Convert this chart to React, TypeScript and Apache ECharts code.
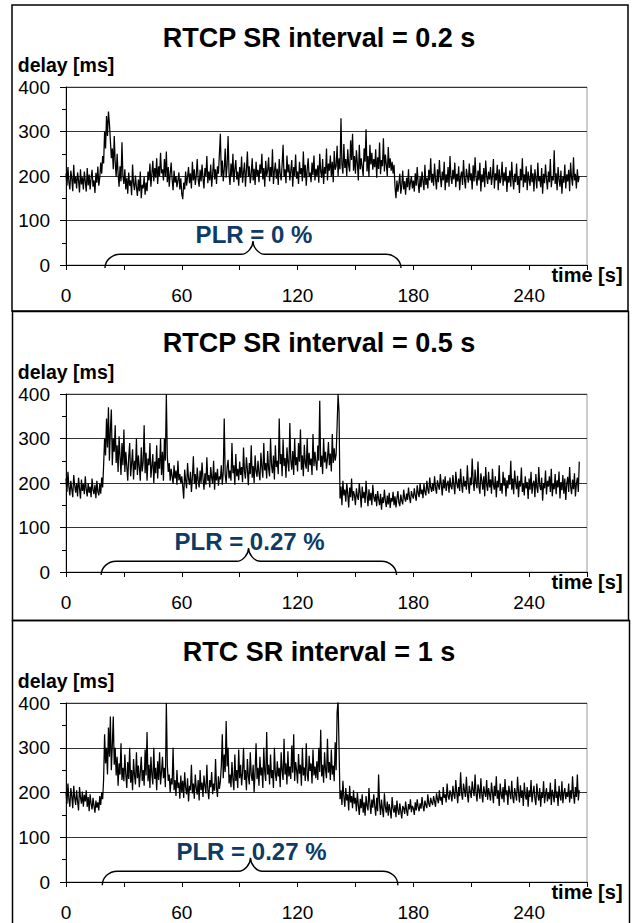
import React, { useEffect, useRef } from "react";
import * as echarts from "echarts";

// sampling step of the delay traces (seconds)
const DT = 0.5;

// Panel titles and PLR annotations
const TITLES = ["RTCP SR interval = 0.2 s", "RTCP SR interval = 0.5 s", "RTC SR interval = 1 s"];
const PLR_LABELS = ["PLR = 0 %", "PLR = 0.27 %", "PLR = 0.27 %"];
// brace: [start s, end s, peak s]
const BRACES = [
  [20.2, 173.6, 96.9],
  [18.2, 171.3, 94.6],
  [18.8, 172.0, 95.6],
];
const X_TICKS = [0, 60, 120, 180, 240];
const Y_TICKS = [0, 100, 200, 300, 400];

// delay [ms], RTCP SR interval = 0.2 s
const DELAY_02 = [
  205,178,220,186,170,212,194,166,225,183,199,172,208,190,163,215,181,197,170,210,
  188,165,218,179,203,170,195,214,176,190,162,207,185,221,178,196,230,205,245,228,
  300,262,335,290,345,318,280,240,262,215,290,230,198,250,205,176,222,188,276,200,
  182,215,170,196,160,208,178,190,157,226,183,168,201,175,155,192,166,210,150,180,
  172,198,158,185,166,210,190,228,176,205,234,188,218,196,240,182,222,200,252,206,
  215,190,238,198,255,186,220,176,205,230,192,168,212,185,200,175,190,208,170,195,
  160,148,185,170,210,178,198,220,184,206,172,232,190,215,180,200,238,192,176,214,
  188,226,195,172,218,200,245,184,210,190,226,176,204,240,192,215,182,222,205,250,
  295,200,235,188,215,262,196,224,290,205,180,228,198,250,186,215,236,192,210,178,
  220,196,244,185,208,230,176,212,255,198,222,184,205,240,190,216,180,232,200,214,
  186,226,205,250,192,218,176,234,200,212,242,188,220,198,260,182,210,230,194,216,
  180,238,205,190,225,270,198,215,184,246,208,226,190,212,236,176,220,200,248,194,
  210,182,232,204,218,188,255,196,225,178,214,240,198,208,186,230,202,246,190,216,
  200,224,185,250,210,196,238,182,220,205,262,190,228,212,246,198,232,186,256,214,
  222,268,200,240,215,330,226,205,272,218,238,200,260,224,210,280,236,295,212,245,
  205,258,228,190,270,215,240,220,200,262,232,305,210,245,198,270,226,252,214,238,
  220,260,196,242,216,275,204,236,222,285,210,248,226,200,265,218,240,212,232,206,
  225,176,150,190,165,182,205,160,178,212,170,188,158,196,175,215,168,185,200,172,
  190,165,206,178,220,184,162,198,175,210,188,168,225,180,196,172,214,190,240,185,
  205,178,228,192,170,215,186,236,198,175,210,190,232,168,204,185,220,176,245,196,
  182,214,192,230,175,205,188,222,168,198,210,180,236,194,172,216,200,185,228,190,
  206,170,224,188,242,196,178,212,190,230,165,204,186,218,175,235,198,182,210,192,
  220,180,200,238,172,206,190,225,168,215,184,196,232,178,208,188,220,164,200,185,
  212,176,232,194,170,205,186,228,180,198,162,216,190,240,175,204,185,222,168,210,
  192,178,225,186,206,165,215,194,172,230,188,200,175,218,160,205,184,226,192,170,
  210,186,238,175,200,190,258,182,206,168,220,192,176,212,160,198,185,226,172,204,
  188,214,166,230,196,178,242,190,205,172,215,186,200,
];

// delay [ms], RTCP SR interval = 0.5 s
const DELAY_05 = [
  210,180,225,192,172,205,186,168,218,195,178,200,170,212,188,165,208,182,198,175,
  215,185,170,200,178,192,168,210,184,175,196,166,205,180,172,198,176,212,190,240,
  300,262,345,280,370,250,320,365,240,300,270,330,245,285,225,305,260,218,290,240,
  320,225,270,238,205,258,290,215,244,276,208,250,230,300,218,262,236,205,280,226,
  248,330,222,268,205,255,240,290,212,238,265,200,248,222,285,210,256,232,300,218,
  270,205,300,250,400,260,225,245,205,232,215,198,240,210,228,196,250,206,220,200,
  215,192,165,230,205,188,245,210,196,225,180,212,260,198,220,186,235,205,190,228,
  200,246,210,185,222,196,258,205,218,190,236,212,198,250,185,224,206,232,194,215,
  208,240,196,225,345,218,200,236,252,210,228,205,290,222,240,196,265,215,232,206,
  248,218,236,202,280,225,210,258,230,195,245,220,285,212,238,200,262,226,214,250,
  222,206,268,236,212,290,228,245,210,272,232,215,300,240,222,262,208,285,236,250,
  220,345,242,265,215,298,238,256,212,280,245,226,335,250,230,272,218,300,240,258,
  226,290,248,320,230,262,215,286,244,232,300,225,268,240,255,218,310,238,270,246,
  228,284,250,385,236,262,220,300,246,270,232,255,292,240,266,226,310,245,278,250,
  265,330,400,360,165,192,150,205,172,185,158,200,176,145,190,168,210,160,182,172,
  150,188,170,162,200,176,145,192,166,180,155,205,172,148,186,160,178,150,196,168,
  158,175,148,182,164,150,176,140,168,155,185,160,146,172,152,178,144,166,158,180,
  150,170,145,165,182,156,148,174,160,152,185,166,158,176,162,190,168,155,182,172,
  165,188,172,160,195,178,168,200,175,185,166,198,180,172,205,186,176,212,190,180,
  200,182,215,190,176,206,194,185,220,196,172,208,188,215,182,198,205,178,212,192,
  186,218,195,175,225,200,188,210,182,232,196,178,215,192,205,185,240,198,176,212,
  195,255,205,182,230,200,188,248,192,176,222,205,185,215,170,236,196,182,225,190,
  208,176,232,195,185,215,168,205,190,240,182,200,176,225,194,212,170,206,188,218,
  196,250,185,210,175,228,200,186,216,168,205,192,235,180,198,172,215,188,202,164,
  210,185,225,176,198,205,168,220,190,178,236,194,184,212,160,200,188,228,174,205,
  192,215,180,232,170,198,186,220,175,206,190,226,165,202,184,218,176,210,162,198,
  214,180,236,192,175,208,186,222,170,198,212,180,248,
];

// delay [ms], RTCP SR interval = 1 s
const DELAY_1 = [
  200,175,220,185,168,210,192,165,215,188,172,205,180,160,212,190,175,202,168,195,
  180,205,168,190,158,196,175,162,188,170,155,182,166,178,160,192,172,200,185,230,
  330,265,300,240,345,280,370,250,305,370,262,300,238,280,215,265,240,310,228,255,
  225,285,240,210,268,230,300,222,250,205,275,238,218,290,232,260,212,245,280,226,
  250,215,296,238,335,225,262,210,280,240,218,300,230,255,205,270,228,290,218,246,
  280,232,255,212,400,262,226,240,200,232,218,300,205,228,192,250,210,222,186,238,
  200,226,188,245,210,196,232,180,215,205,262,198,220,186,240,210,195,228,182,250,
  205,222,190,238,214,198,262,206,185,228,212,246,196,220,204,275,210,190,236,208,
  225,260,330,232,285,246,360,258,300,220,240,212,268,230,205,285,226,250,210,296,
  232,262,216,245,300,228,250,205,275,236,218,290,240,226,262,200,248,310,230,255,
  215,280,238,256,210,300,245,226,335,240,262,218,285,232,250,210,300,242,226,270,
  236,255,212,290,248,228,320,240,265,218,292,236,258,230,305,244,330,226,268,250,
  220,286,242,262,215,300,238,256,226,310,240,225,282,248,265,220,296,238,258,232,
  270,228,300,246,340,236,262,222,290,250,232,320,244,268,228,296,240,260,225,312,
  250,380,405,300,185,205,172,226,190,168,210,182,196,160,215,178,192,165,205,175,
  188,158,200,172,150,186,165,196,155,178,148,192,170,160,210,176,152,184,166,196,
  170,148,188,158,240,176,150,184,162,145,198,168,155,180,148,174,160,142,190,165,
  155,172,145,182,160,150,176,158,142,170,165,152,180,160,148,174,162,185,156,170,
  165,150,178,160,185,168,158,176,164,190,170,158,182,172,165,196,175,168,188,178,
  172,192,180,168,198,185,176,205,182,190,172,212,188,196,178,220,192,184,205,195,
  180,215,196,186,228,200,176,212,192,245,198,184,220,205,190,235,196,178,215,202,
  188,225,205,192,240,198,180,218,206,186,232,195,178,214,200,190,228,184,210,196,
  182,222,200,176,215,192,236,186,205,170,220,196,185,212,178,230,194,205,172,215,
  198,185,226,190,176,210,196,182,235,200,178,216,188,205,170,222,194,184,212,168,
  205,190,228,178,198,215,186,172,220,195,182,210,168,200,188,225,176,196,210,180,
  200,185,222,172,206,194,178,230,188,202,170,215,192,182,225,176,198,210,185,200,
  190,220,178,205,186,236,196,175,212,190,240,182,205,
];

const SERIES = [DELAY_02, DELAY_05, DELAY_1];

const FONT = "'Liberation Sans', Arial, Helvetica, sans-serif";
const GRID_TOPS = [87, 394, 703];
const GRID_HEIGHTS = [178, 178, 179];
const TITLE_TOPS = [24.5, 329.5, 638];
const PANEL_RECTS = [
  { x: 12, y: 5, width: 616, height: 306 },
  { x: 12.5, y: 311.5, width: 616, height: 309 },
  { x: 12.5, y: 620.5, width: 617, height: 320 },
];
const BRACE_END_Y = -7;
const BRACE_FLAT_Y = 24;
const BRACE_PEAK_Y = 54;
const PLR_TEXT_Y = 69;

export default function App() {
  const ref = useRef<HTMLDivElement>(null);

  useEffect(() => {
    document.body.style.margin = "0";
    if (!ref.current) return;
    const chart = echarts.init(ref.current, undefined, { renderer: "svg" });

    const makeBrace = (panel: number) => ({
      type: "custom",
      xAxisIndex: panel,
      yAxisIndex: panel,
      z: 5,
      data: [BRACES[panel]],
      renderItem: (params: any, api: any) => {
        const s = api.value(0);
        const e = api.value(1);
        const m = api.value(2);
        const [xs, ye] = api.coord([s, BRACE_END_Y]);
        const [xe] = api.coord([e, BRACE_END_Y]);
        const [xm, yh] = api.coord([m, BRACE_FLAT_Y]);
        const yp = api.coord([m, BRACE_PEAK_Y])[1];
        const yt = api.coord([m, PLR_TEXT_Y])[1];
        const r1 = 15;
        const r2 = 12;
        const k = 0.55;
        const d = [
          `M ${xs} ${ye}`,
          `C ${xs} ${ye - k * (ye - yh)} ${xs + r1 * (1 - k)} ${yh} ${xs + r1} ${yh}`,
          `L ${xm - r2} ${yh}`,
          `C ${xm - r2 * (1 - k)} ${yh} ${xm} ${yh - k * (yh - yp)} ${xm} ${yp}`,
          `C ${xm} ${yh - k * (yh - yp)} ${xm + r2 * (1 - k)} ${yh} ${xm + r2} ${yh}`,
          `L ${xe - r1} ${yh}`,
          `C ${xe - r1 * (1 - k)} ${yh} ${xe} ${ye - k * (ye - yh)} ${xe} ${ye}`,
        ].join(" ");
        return {
          type: "group",
          children: [
            {
              type: "path",
              shape: { pathData: d },
              style: { stroke: "#000", fill: "none", lineWidth: 1.4 },
            },
            {
              type: "text",
              x: xm + 1,
              y: yt,
              style: {
                text: PLR_LABELS[panel],
                fill: "#0d3b66",
                font: `bold 24px ${FONT}`,
                align: "center",
                verticalAlign: "middle",
              },
            },
          ],
        };
      },
    });

    const option: any = {
      animation: false,
      backgroundColor: "#ffffff",
      title: TITLES.map((t, i) => ({
        text: t,
        left: 319,
        textAlign: "center",
        top: TITLE_TOPS[i],
        padding: 0,
        textStyle: { fontSize: 27, fontWeight: "bold", color: "#000", fontFamily: FONT },
      })),
      grid: GRID_TOPS.map((top, i) => ({
        left: 66,
        width: 521,
        top,
        height: GRID_HEIGHTS[i],
        show: true,
        borderColor: "#9a9a9a",
        borderWidth: 1,
        containLabel: false,
        outerBoundsMode: "none",
      })),
      xAxis: [0, 1, 2].map((i) => ({
        type: "value",
        gridIndex: i,
        min: 0,
        max: 270,
        interval: 30,
        name: "time [s]",
        nameLocation: "end",
        nameGap: 0,
        nameMoveOverlap: false,
        nameTextStyle: {
          align: "center",
          verticalAlign: "top",
          fontSize: 20,
          fontWeight: "bold",
          color: "#000",
          fontFamily: FONT,
        },
        axisLine: { show: true, onZero: false, lineStyle: { color: "#000", width: 1 } },
        axisTick: { show: true, length: 5, lineStyle: { color: "#000", width: 1 } },
        axisLabel: {
          margin: 21,
          fontSize: 19,
          color: "#000",
          fontFamily: FONT,
          formatter: (v: number) => (X_TICKS.includes(v) ? String(v) : ""),
        },
        splitLine: { show: false },
      })),
      yAxis: [0, 1, 2].map((i) => ({
        type: "value",
        gridIndex: i,
        min: 0,
        max: 400,
        interval: 100,
        name: "delay [ms]",
        nameLocation: "end",
        nameGap: 14,
        nameMoveOverlap: false,
        nameTextStyle: {
          align: "center",
          fontSize: 19.5,
          lineHeight: 16,
          fontWeight: "bold",
          color: "#000",
          fontFamily: FONT,
        },
        axisLine: { show: true, onZero: false, lineStyle: { color: "#000", width: 1 } },
        axisTick: { show: true, length: 6, lineStyle: { color: "#000", width: 1 } },
        minorTick: { show: true, splitNumber: 2, length: 4, lineStyle: { color: "#000", width: 1 } },
        minorSplitLine: { show: false },
        axisLabel: {
          margin: 16,
          fontSize: 19,
          lineHeight: 14,
          color: "#000",
          fontFamily: FONT,
          formatter: (v: number) => (Y_TICKS.includes(v) ? String(v) : ""),
        },
        splitLine: { show: true, lineStyle: { color: "#333", width: 1 } },
      })),
      graphic: PANEL_RECTS.map((r) => ({
        type: "rect",
        shape: r,
        style: { fill: "none", stroke: "#000", lineWidth: 1.5 },
        silent: true,
      })),
      series: [
        ...SERIES.map((arr, i) => ({
          type: "line",
          xAxisIndex: i,
          yAxisIndex: i,
          data: arr.map((v, j) => [j * DT, v]),
          showSymbol: false,
          symbol: "none",
          lineStyle: { color: "#000", width: 1.25 },
          z: 3,
        })),
        ...[0, 1, 2].map((i) => makeBrace(i)),
      ],
    };

    chart.setOption(option);
    return () => chart.dispose();
  }, []);

  return <div ref={ref} style={{ width: 634, height: 923 }} />;
}
